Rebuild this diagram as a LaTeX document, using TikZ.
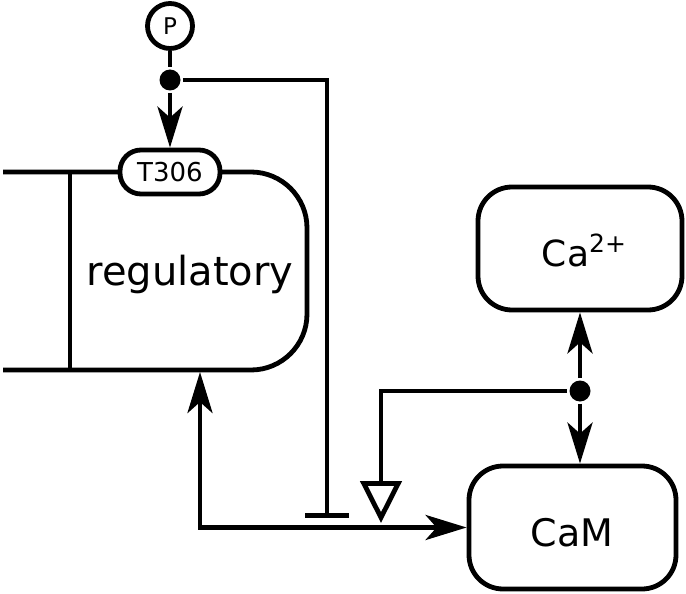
\documentclass[tikz,border=0pt]{standalone}
\usepackage{fontspec}
\setmainfont{DejaVu Sans}
\usetikzlibrary{arrows.meta}
\begin{document}
\begin{tikzpicture}[x=1pt,y=-1pt,line width=4.8pt,
  >={Stealth[length=41pt,width=25pt,inset=11pt]},
  box/.style={draw,rounded corners=34pt,inner sep=0pt},
  dotnode/.style={circle,fill,inner sep=0pt,minimum size=21pt},
  pill/.style={draw,fill=white,rounded corners=21pt,minimum width=100pt,minimum height=44pt,inner sep=0pt,font=\fontsize{26}{30}\selectfont},
  lbl/.style={inner sep=0pt}]
\useasboundingbox (0,0) rectangle (686,594);
% regulatory shape
\draw[rounded corners=56pt] (3,172) -- (307,172) -- (307,370) -- (3,370);
\draw (70,172) -- (70,370);
\node[lbl,anchor=base,font=\fontsize{40}{44}\selectfont] (reg) at (190,285) {regulatory};
\node[pill] (T306) at (170,172) {T306};
% P state
\node[draw,circle,minimum size=45pt,inner sep=0pt,font=\fontsize{23}{26}\selectfont] (P) at (170,26) {P};
\node[dotnode] (d1) at (170,80) {};
% Ca2+ and CaM
\node[box,minimum width=204pt,minimum height=123pt] (ca) at (580,248.5) {};
\node[lbl,anchor=base,font=\fontsize{36}{40}\selectfont] (catext) at (584,266) {Ca\raise14pt\hbox{\fontsize{25}{28}\selectfont 2+}};
\node[box,minimum width=207pt,minimum height=123pt] (cam) at (572.5,527.5) {};
\node[lbl,anchor=base,font=\fontsize{38}{44}\selectfont] (camtext) at (572,546) {CaM};
\node[dotnode] (d2) at (580,391) {};
% coordinates
\coordinate (regb) at (200,372);
\coordinate (inh) at (327,518);
\coordinate (stim) at (381,523);
% connectors
\draw (P) -- (d1);
\draw[->] (d1) -- (T306.north);
\draw[-{Bar[width=44pt]}] (d1) -| (inh);
\draw[->] (d2) -- (d2 |- ca.south);
\draw[->] (d2) -- (d2 |- cam.north);
\draw[-{Triangle[width=41pt,length=42pt,fill=white]}] (d2) -| (stim);
\draw[<->] (regb) |- (cam.west);
\end{tikzpicture}
\end{document}
